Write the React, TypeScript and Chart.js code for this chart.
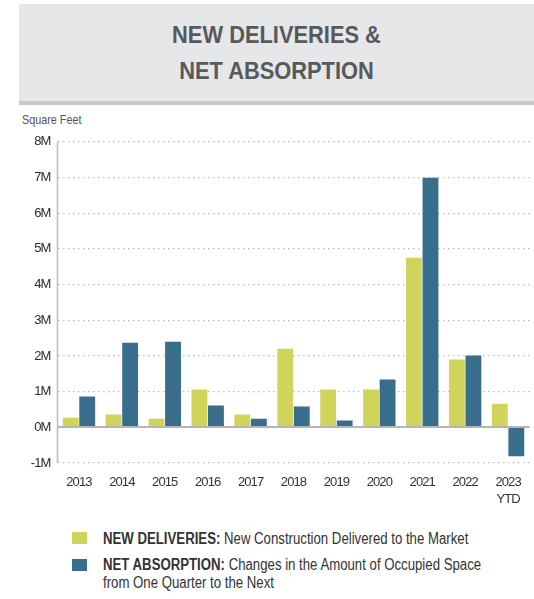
import React, { useEffect, useRef } from "react";
import { Chart, registerables } from "chart.js";

Chart.register(...registerables);

const categories: (string | string[])[] = ["2013", "2014", "2015", "2016", "2017", "2018", "2019", "2020", "2021", "2022", ["2023", "YTD"]];
const newDeliveries = [0.27, 0.36, 0.24, 1.06, 0.36, 2.2, 1.06, 1.06, 4.75, 1.9, 0.66];
const netAbsorption = [0.86, 2.37, 2.4, 0.61, 0.24, 0.58, 0.19, 1.34, 6.99, 2.01, -0.81];
const yTicks = [-1, 0, 1, 2, 3, 4, 5, 6, 7, 8];

const GREEN = "#d1d45a";
const BLUE = "#386d8c";
const FONT = '"Liberation Sans", Arial, sans-serif';

const axisPlugin = {
  id: "axisLines",
  beforeDraw(chart: any) {
    (chart.ctx as any).letterSpacing = "-0.9px";
  },
  afterDatasetsDraw(chart: any) {
    const { ctx, chartArea, scales } = chart;
    const y = scales.y;
    ctx.save();
    const y0 = Math.round(y.getPixelForValue(0));
    ctx.strokeStyle = "#b5b5b5";
    ctx.lineWidth = 2;
    ctx.beginPath();
    ctx.moveTo(chartArea.left, y0);
    ctx.lineTo(chartArea.right, y0);
    ctx.stroke();
    ctx.strokeStyle = "#bdbdbd";
    ctx.lineWidth = 1.5;
    ctx.beginPath();
    ctx.moveTo(chartArea.left, chartArea.top);
    ctx.lineTo(chartArea.left, chartArea.bottom);
    ctx.stroke();
    ctx.restore();
  },
};

export default function App() {
  const canvasRef = useRef<HTMLCanvasElement>(null);

  useEffect(() => {
    if (!canvasRef.current) return;
    const chart = new Chart(canvasRef.current, {
      type: "bar",
      data: {
        labels: categories,
        datasets: [
          { label: "New Deliveries", data: newDeliveries, backgroundColor: GREEN, categoryPercentage: 0.77, barPercentage: 0.96 },
          { label: "Net Absorption", data: netAbsorption, backgroundColor: BLUE, categoryPercentage: 0.77, barPercentage: 0.96 },
        ],
      },
      options: {
        animation: false,
        responsive: false,
        maintainAspectRatio: false,
        layout: { padding: { top: 8, right: 4.5, left: 0, bottom: 0 } },
        plugins: { legend: { display: false }, tooltip: { enabled: false } },
        scales: {
          x: {
            grid: { display: false, drawTicks: false },
            border: { display: false },
            ticks: { color: "#333", font: { family: FONT, size: 13, lineHeight: 1.3 }, padding: 11, maxRotation: 0, autoSkip: false },
            afterFit: (s: any) => { s.height = 50; },
          },
          y: {
            min: -1,
            max: 8,
            afterBuildTicks: (s: any) => { s.ticks = yTicks.map((v) => ({ value: v })); },
            grid: {
              drawTicks: false,
              color: (c: any) => (c.tick && c.tick.value === 0 ? "rgba(0,0,0,0)" : "#bdbdbd"),
              lineWidth: 1.2,
            },
            border: { display: false, dash: [1.5, 3.5] },
            ticks: {
              color: "#2b2b2b",
              font: { family: FONT, size: 13 },
              padding: 7,
              callback: (v: any) => `${v}M`,
            },
            afterFit: (s: any) => { s.width = 57.5; },
          },
        },
      },
      plugins: [axisPlugin],
    });
    return () => chart.destroy();
  }, []);

  const legendText: React.CSSProperties = {
    position: "absolute",
    left: 103,
    fontSize: 16,
    color: "#333",
    lineHeight: "18px",
    whiteSpace: "nowrap",
    transform: "scaleX(0.825)",
    transformOrigin: "left top",
  };

  return (
    <div style={{ position: "absolute", left: 0, top: 0, width: 534, height: 599, background: "#fff", fontFamily: FONT, overflow: "hidden" }}>
      <div
        style={{
          position: "absolute",
          left: 19,
          top: 4,
          width: 515,
          height: 97,
          background: "#e6e7e8",
          borderBottom: "4px solid #c8c9ca",
          color: "#58595b",
          fontWeight: 700,
          fontSize: 23,
          lineHeight: "36px",
          textAlign: "center",
          display: "flex",
          flexDirection: "column",
          justifyContent: "center",
          boxSizing: "content-box",
        }}
      >
        <div style={{ transform: "scaleX(0.95)" }}>NEW DELIVERIES &amp;</div>
        <div style={{ transform: "scaleX(0.95)" }}>NET ABSORPTION</div>
      </div>
      <div style={{ position: "absolute", left: 22, top: 112, fontSize: 13, color: "#555", whiteSpace: "nowrap", transform: "scaleX(0.83)", transformOrigin: "left top" }}>Square Feet</div>
      <canvas ref={canvasRef} width={534} height={386} style={{ position: "absolute", left: 0, top: 127, width: 534, height: 386 }} />
      <div style={{ position: "absolute", left: 72, top: 532, width: 15, height: 12, background: GREEN }} />
      <div style={{ position: "absolute", left: 72, top: 559, width: 15, height: 12, background: BLUE }} />
      <div style={{ ...legendText, top: 530 }}>
        <b>NEW DELIVERIES:</b> New Construction Delivered to the Market
      </div>
      <div style={{ ...legendText, top: 556 }}>
        <b>NET ABSORPTION:</b> Changes in the Amount of Occupied Space
        <br />
        from One Quarter to the Next
      </div>
    </div>
  );
}
